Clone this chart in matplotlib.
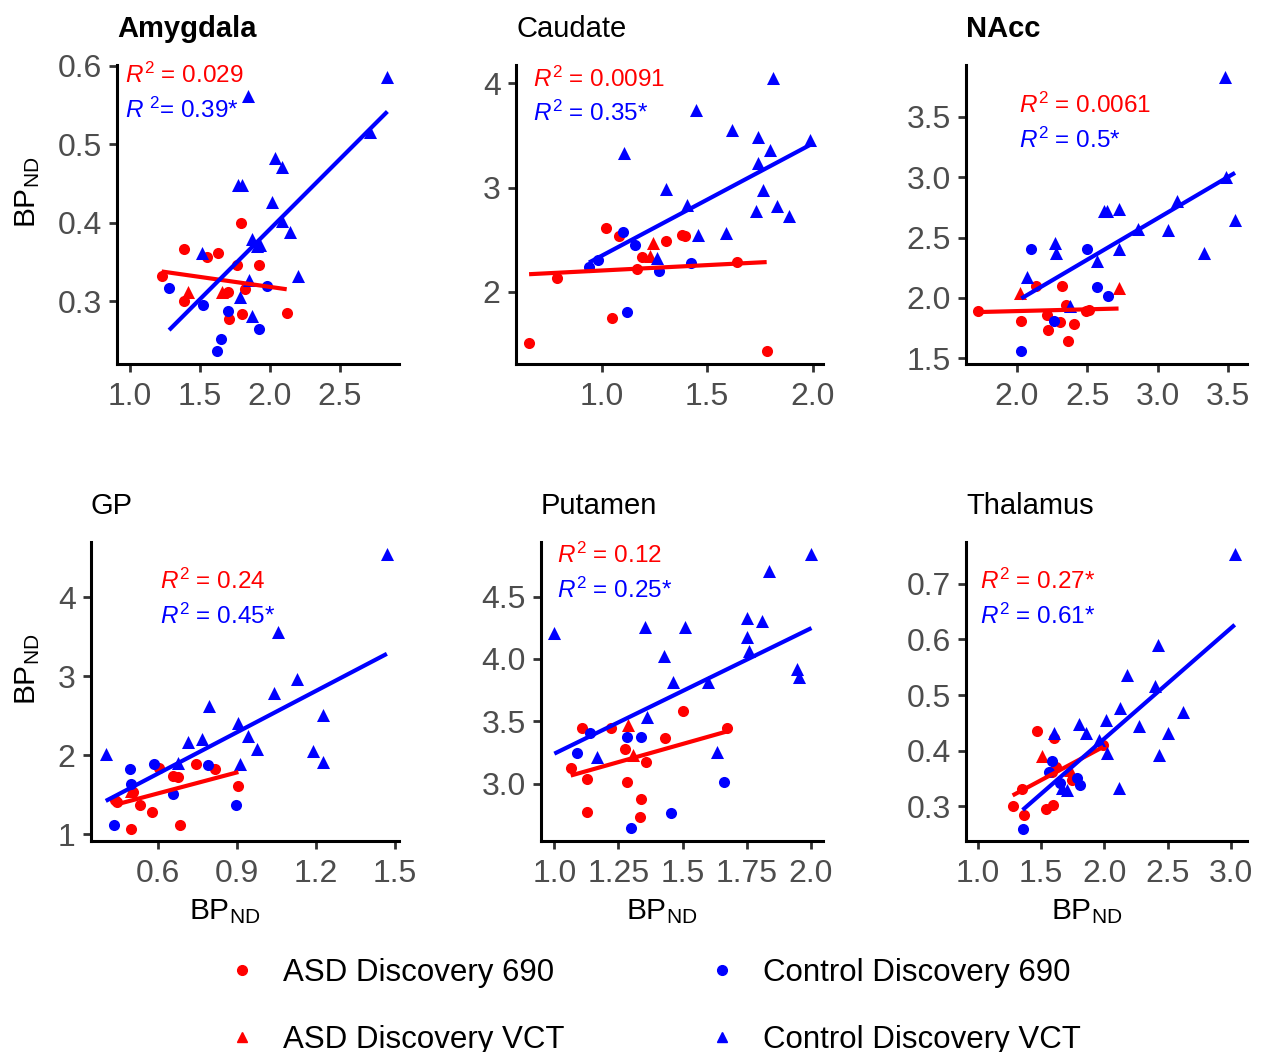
import numpy as np
import matplotlib.pyplot as plt
from matplotlib.lines import Line2D

plt.rcParams['font.family'] = ['Liberation Sans', 'DejaVu Sans']
plt.rcParams['mathtext.fontset'] = 'custom'
plt.rcParams['mathtext.rm'] = 'Liberation Sans'
plt.rcParams['mathtext.it'] = 'Liberation Sans:italic'

RED = '#FF0000'
BLUE = '#0000FF'

# ---- data: (x, y) pairs per group ----
amygdala_asd690 = [(1.226, 0.332), (1.388, 0.366), (1.383, 0.300), (1.548, 0.356), (1.631, 0.361),
                   (1.790, 0.400), (1.762, 0.346), (1.924, 0.346), (1.821, 0.315), (1.702, 0.312),
                   (1.710, 0.277), (1.798, 0.284), (2.119, 0.285)]
amygdala_asdvct = [(1.412, 0.312), (1.655, 0.312)]
amygdala_ctl690 = [(1.279, 0.317), (1.524, 0.295), (1.698, 0.288), (1.650, 0.252), (1.619, 0.237),
                   (1.924, 0.265), (1.976, 0.320)]
amygdala_ctlvct = [(1.512, 0.362), (1.845, 0.561), (1.769, 0.448), (1.798, 0.448), (2.038, 0.482),
                   (2.086, 0.471), (2.017, 0.426), (1.874, 0.379), (2.083, 0.402), (2.143, 0.388),
                   (1.929, 0.372), (1.905, 0.370), (2.198, 0.332), (1.850, 0.327), (1.786, 0.305),
                   (1.869, 0.281), (2.714, 0.515), (2.838, 0.586)]

caudate_asd690 = [(0.656, 1.508), (0.787, 2.131), (1.019, 2.610), (1.084, 2.537), (1.051, 1.748),
                  (1.166, 2.217), (1.190, 2.332), (1.303, 2.489), (1.379, 2.546), (1.395, 2.537),
                  (1.640, 2.284), (1.782, 1.435)]
caudate_asdvct = [(1.245, 2.466), (1.229, 2.345)]
caudate_ctl690 = [(0.940, 2.243), (0.981, 2.307), (1.100, 2.578), (1.158, 2.450), (1.273, 2.204),
                  (1.422, 2.281), (1.122, 1.812)]
caudate_ctlvct = [(1.106, 3.329), (1.305, 2.984), (1.403, 2.834), (1.447, 3.744), (1.458, 2.546),
                  (1.589, 2.562), (1.619, 3.553), (1.743, 3.489), (1.798, 3.361), (1.814, 4.054),
                  (1.739, 3.240), (1.766, 2.978), (1.730, 2.780), (1.829, 2.827), (1.889, 2.732),
                  (1.987, 3.457), (1.264, 2.329)]

nacc_asd690 = [(1.723, 1.895), (2.031, 1.810), (2.137, 2.102), (2.220, 1.735), (2.213, 1.859),
               (2.303, 1.799), (2.319, 2.102), (2.348, 1.942), (2.407, 1.782), (2.364, 1.644),
               (2.489, 1.895), (2.513, 1.901)]
nacc_asdvct = [(2.019, 2.039), (2.721, 2.080)]
nacc_ctl690 = [(2.099, 2.408), (2.496, 2.408), (2.570, 2.094), (2.643, 2.019), (2.031, 1.561),
               (2.260, 1.810)]
nacc_ctlvct = [(2.073, 2.171), (2.272, 2.452), (2.279, 2.370), (2.378, 1.937), (2.567, 2.306),
               (2.615, 2.723), (2.638, 2.723), (2.726, 2.734), (2.721, 2.403), (2.858, 2.568),
               (3.071, 2.563), (3.135, 2.803), (3.331, 2.370), (3.482, 3.004), (3.548, 2.646),
               (3.478, 3.832)]

gp_asd690 = [(0.447, 1.409), (0.499, 1.072), (0.508, 1.536), (0.533, 1.367), (0.577, 1.283),
             (0.603, 1.844), (0.659, 1.734), (0.678, 1.726), (0.685, 1.114), (0.744, 1.886),
             (0.817, 1.831), (0.906, 1.612), (0.438, 1.430)]
gp_asdvct = [(0.498, 1.550)]
gp_ctl690 = [(0.434, 1.114), (0.495, 1.823), (0.499, 1.641), (0.586, 1.886), (0.659, 1.515),
             (0.792, 1.873), (0.897, 1.367)]
gp_ctlvct = [(0.403, 2.021), (0.678, 1.903), (0.713, 2.169), (0.767, 2.211), (0.794, 2.620),
             (0.906, 2.401), (0.912, 1.895), (0.944, 2.241), (0.978, 2.084), (1.042, 2.781),
             (1.058, 3.561), (1.130, 2.958), (1.190, 2.055), (1.228, 2.506), (1.228, 1.916),
             (1.469, 4.544)]

putamen_asd690 = [(1.064, 3.123), (1.106, 3.444), (1.126, 3.035), (1.126, 2.770), (1.221, 3.449),
                  (1.275, 3.275), (1.284, 3.016), (1.357, 3.176), (1.340, 2.874), (1.336, 2.735),
                  (1.431, 3.364), (1.503, 3.583), (1.674, 3.444)]
putamen_asdvct = [(1.288, 3.471), (1.308, 3.230)]
putamen_ctl690 = [(1.087, 3.243), (1.139, 3.409), (1.284, 3.372), (1.338, 3.377), (1.301, 2.647),
                  (1.457, 2.762), (1.661, 3.016)]
putamen_ctlvct = [(1.000, 4.211), (1.168, 3.217), (1.360, 3.537), (1.353, 4.254), (1.429, 4.024),
                  (1.464, 3.818), (1.509, 4.259), (1.600, 3.818), (1.636, 3.257), (1.753, 4.326),
                  (1.752, 4.179), (1.760, 4.064), (1.812, 4.307), (1.836, 4.706), (1.948, 3.917),
                  (1.955, 3.858), (2.003, 4.842)]

thalamus_asd690 = [(1.274, 0.300), (1.347, 0.331), (1.366, 0.284), (1.466, 0.436), (1.537, 0.295),
                   (1.597, 0.302), (1.605, 0.422), (1.584, 0.362), (1.618, 0.370), (1.747, 0.348),
                   (1.992, 0.410)]
thalamus_asdvct = [(1.505, 0.391), (1.729, 0.366)]
thalamus_ctl690 = [(1.353, 0.260), (1.584, 0.381), (1.558, 0.361), (1.650, 0.341), (1.782, 0.350),
                   (1.808, 0.338)]
thalamus_ctlvct = [(1.603, 0.431), (1.663, 0.332), (1.703, 0.329), (1.803, 0.447), (1.855, 0.431),
                   (1.961, 0.420), (2.011, 0.455), (2.024, 0.396), (2.124, 0.477), (2.118, 0.332),
                   (2.176, 0.536), (2.276, 0.444), (2.400, 0.516), (2.426, 0.589), (2.432, 0.393),
                   (2.505, 0.431), (2.624, 0.469), (3.032, 0.753)]

titles = ['Amygdala', 'Caudate', 'NAcc', 'GP', 'Putamen', 'Thalamus']
bold_titles = ['Amygdala', 'NAcc']
r2_asd = [r'$R^2$ = 0.029', r'$R^2$ = 0.0091', r'$R^2$ = 0.0061',
          r'$R^2$ = 0.24', r'$R^2$ = 0.12', r'$R^2$ = 0.27*']
r2_ctl = [r'$R\ ^2$= 0.39*', r'$R^2$ = 0.35*', r'$R^2$ = 0.5*',
          r'$R^2$ = 0.45*', r'$R^2$ = 0.25*', r'$R^2$ = 0.61*']
xticks = [[1.0, 1.5, 2.0, 2.5], [1.0, 1.5, 2.0], [2.0, 2.5, 3.0, 3.5],
          [0.6, 0.9, 1.2, 1.5], [1.0, 1.25, 1.5, 1.75, 2.0], [1.0, 1.5, 2.0, 2.5, 3.0]]
xticklabels = [['1.0', '1.5', '2.0', '2.5'], ['1.0', '1.5', '2.0'], ['2.0', '2.5', '3.0', '3.5'],
               ['0.6', '0.9', '1.2', '1.5'], ['1.0', '1.25', '1.5', '1.75', '2.0'],
               ['1.0', '1.5', '2.0', '2.5', '3.0']]
yticks = [[0.3, 0.4, 0.5, 0.6], [2, 3, 4], [1.5, 2.0, 2.5, 3.0, 3.5],
          [1, 2, 3, 4], [3.0, 3.5, 4.0, 4.5], [0.3, 0.4, 0.5, 0.6, 0.7]]
yticklabels = [['0.3', '0.4', '0.5', '0.6'], ['2', '3', '4'], ['1.5', '2.0', '2.5', '3.0', '3.5'],
               ['1', '2', '3', '4'], ['3.0', '3.5', '4.0', '4.5'], ['0.3', '0.4', '0.5', '0.6', '0.7']]

groups = [
    (amygdala_asd690, amygdala_asdvct, amygdala_ctl690, amygdala_ctlvct),
    (caudate_asd690, caudate_asdvct, caudate_ctl690, caudate_ctlvct),
    (nacc_asd690, nacc_asdvct, nacc_ctl690, nacc_ctlvct),
    (gp_asd690, gp_asdvct, gp_ctl690, gp_ctlvct),
    (putamen_asd690, putamen_asdvct, putamen_ctl690, putamen_ctlvct),
    (thalamus_asd690, thalamus_asdvct, thalamus_ctl690, thalamus_ctlvct),
]

# layout (pixels: left, right, top, bottom) and axis ranges
W, H = 1262, 1052
boxes = [(117, 399, 65, 364), (516, 823, 65, 364), (966, 1247, 65, 364),
         (91, 399, 542, 841), (541, 823, 542, 841), (966, 1247, 542, 841)]
xlims = [(0.907, 2.921), (0.594, 2.049), (1.638, 3.633), (0.347, 1.515), (0.948, 2.048), (0.905, 3.129)]
ylims = [(0.22, 0.601), (1.31, 4.175), (1.453, 3.928), (0.915, 4.696), (2.54, 4.937), (0.2376, 0.775)]
r2_pos = [(0.028, 0.967, 0.849), (0.054, 0.953, 0.839), (0.189, 0.866, 0.749),
          (0.224, 0.867, 0.750), (0.056, 0.957, 0.839), (0.05, 0.867, 0.750)]

BP = r'BP$_{\mathregular{ND}}$'

fig = plt.figure(figsize=(W / 100, H / 100), dpi=100)

for i in range(6):
    l, r, t, b = boxes[i]
    ax = fig.add_axes([l / W, (H - b) / H, (r - l) / W, (b - t) / H])
    asd690, asdvct, ctl690, ctlvct = [np.array(g) for g in groups[i]]

    # regression lines (ASD pooled, Control pooled)
    for pts, col in [(np.vstack([asd690, asdvct]), RED), (np.vstack([ctl690, ctlvct]), BLUE)]:
        k, c = np.polyfit(pts[:, 0], pts[:, 1], 1)
        xs = np.array([pts[:, 0].min(), pts[:, 0].max()])
        ax.plot(xs, k * xs + c, color=col, lw=3, zorder=3, solid_capstyle='butt')

    ax.scatter(asd690[:, 0], asd690[:, 1], s=64, marker='o', color=RED, lw=0, zorder=2)
    ax.scatter(asdvct[:, 0], asdvct[:, 1], s=88, marker='^', color=RED, lw=0, zorder=2)
    ax.scatter(ctl690[:, 0], ctl690[:, 1], s=64, marker='o', color=BLUE, lw=0, zorder=2)
    ax.scatter(ctlvct[:, 0], ctlvct[:, 1], s=88, marker='^', color=BLUE, lw=0, zorder=2)

    ax.set_xlim(*xlims[i])
    ax.set_ylim(*ylims[i])
    ax.set_xticks(xticks[i])
    ax.set_xticklabels(xticklabels[i])
    ax.set_yticks(yticks[i])
    ax.set_yticklabels(yticklabels[i])
    for s in ['top', 'right']:
        ax.spines[s].set_visible(False)
    for s in ['left', 'bottom']:
        ax.spines[s].set_linewidth(2.2)
        ax.spines[s].set_color('black')
    ax.tick_params(length=6, width=2, color='#333333', labelcolor='#4D4D4D',
                   labelsize=23, pad=5)
    ax.tick_params(axis='x', pad=7)

    ax.text(0.0, 1.12, titles[i], transform=ax.transAxes, fontsize=21, va='center', ha='left',
            fontweight='bold' if titles[i] in bold_titles else 'normal')

    fx, fy1, fy2 = r2_pos[i]
    ax.text(fx, fy1, r2_asd[i], transform=ax.transAxes, color=RED, fontsize=17.5, va='center')
    ax.text(fx, fy2, r2_ctl[i], transform=ax.transAxes, color=BLUE, fontsize=17.5, va='center')

    if i in (0, 3):
        fig.text(28 / W, 1 - ((t + b) / 2 - 22) / H, BP, rotation=90, fontsize=21.5,
                 ha='center', va='center')
    if i >= 3:
        fig.text(((l + r) / 2 - 20) / W, 1 - 912 / H, BP, fontsize=21.5, ha='center', va='center')

# legend
handles = [Line2D([], [], ls='none', marker='o', color=RED, markersize=7),
           Line2D([], [], ls='none', marker='^', color=RED, markersize=7),
           Line2D([], [], ls='none', marker='o', color=BLUE, markersize=7),
           Line2D([], [], ls='none', marker='^', color=BLUE, markersize=7)]
labels = ['ASD Discovery 690', 'ASD Discovery VCT', 'Control Discovery 690', 'Control Discovery VCT']
fig.legend(handles, labels, ncol=2, frameon=False, fontsize=22.5, loc='upper left',
           bbox_to_anchor=(226 / W, 1 - 958 / H), borderpad=0, borderaxespad=0,
           handlelength=1.0, handletextpad=0.81, columnspacing=4.55, labelspacing=1.19)

fig.savefig('out.png', dpi=100)
